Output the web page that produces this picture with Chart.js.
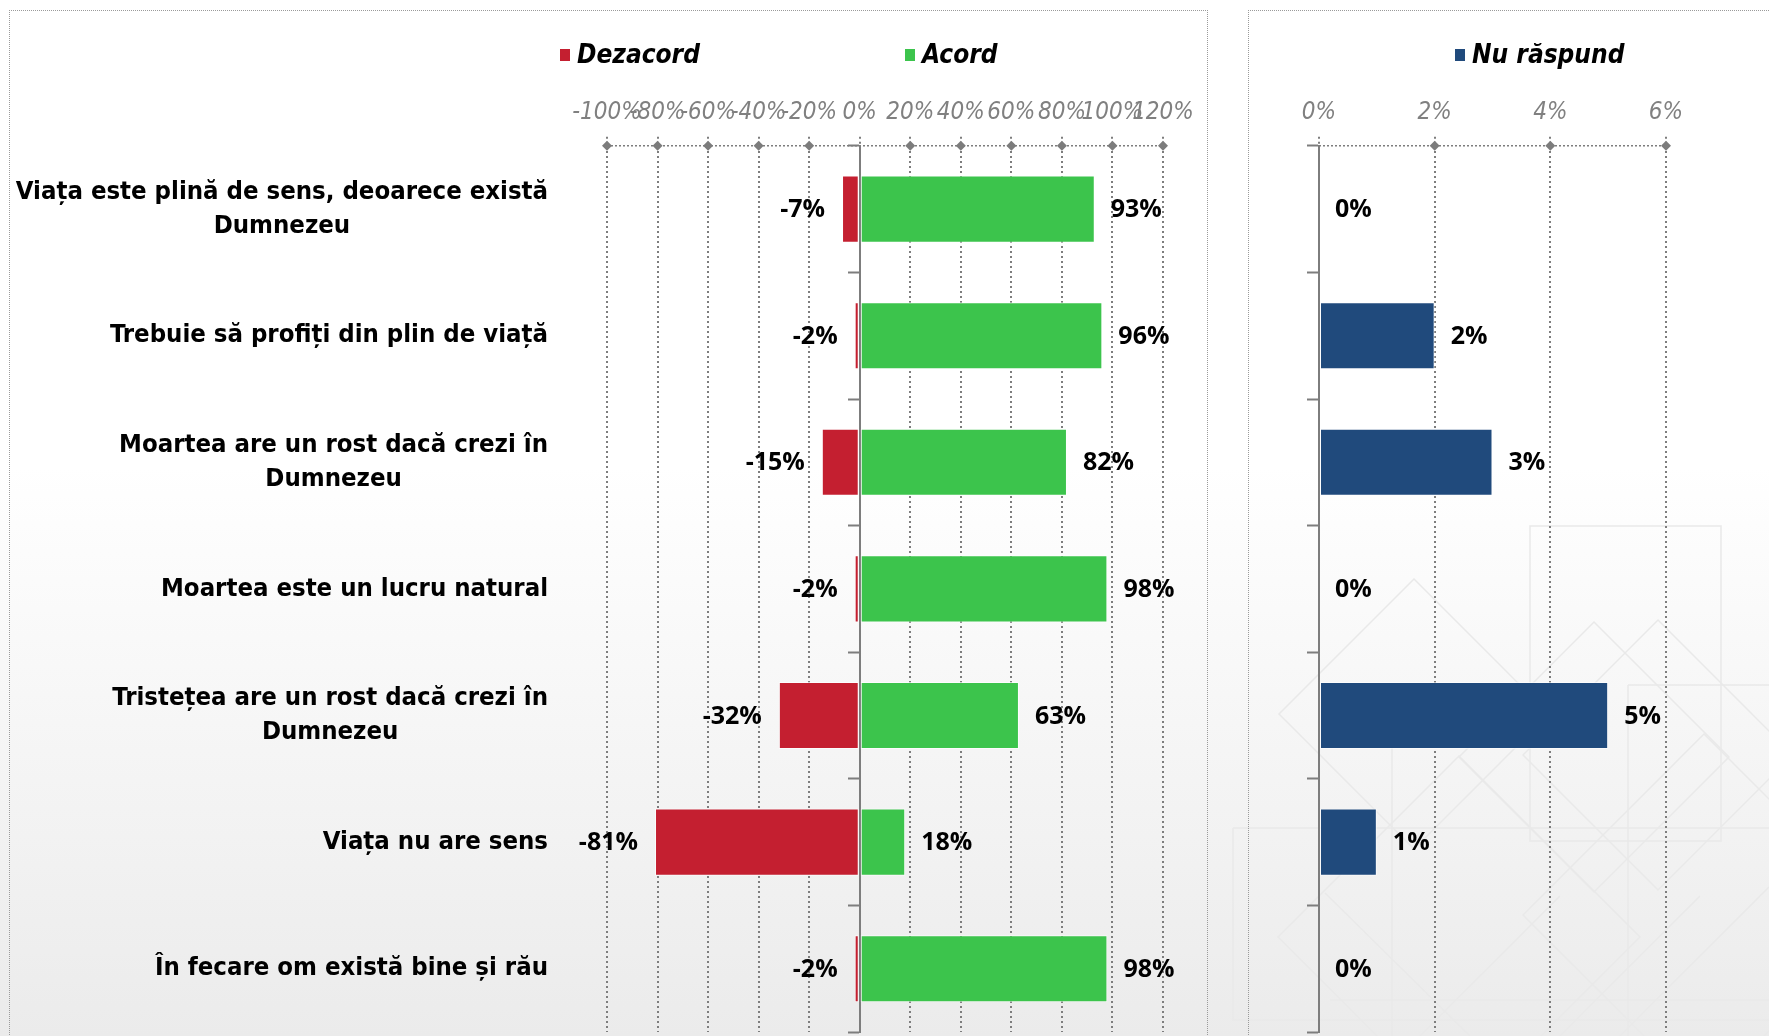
<!DOCTYPE html>
<html>
<head>
<meta charset="utf-8">
<script src="https://cdn.jsdelivr.net/npm/chart.js@4.4.0/dist/chart.umd.min.js"></script>
<style>
    html, body { margin: 0; padding: 0; }
    body {
        width: 1769px; height: 1036px; overflow: hidden; position: relative;
        background: linear-gradient(to bottom, #ffffff 0%, #ffffff 45%, #ebebeb 100%);
    }
    #bg { position: absolute; left: 0; top: 0; }
    .panel { position: absolute; border-left: 1px dotted #9a9a9a; border-top: 1px dotted #9a9a9a; }
    #p1 { left: 9px; top: 10px; width: 1197px; height: 1040px; border-right: 1px dotted #9a9a9a; }
    #p2 { left: 1248px; top: 10px; width: 540px; height: 1040px; }
    canvas { position: absolute; left: 0; top: 0; }
</style>
</head>
<body>
<!-- model slab de fundal (decor) -->
<svg id="bg" width="1769" height="1036" fill="none" stroke="#e9e9e9" stroke-width="1.5">
    <rect x="1530" y="526" width="191" height="315"/>
    <path d="M1414 579 L1549 714 L1414 849 L1279 714 Z"/>
    <path d="M1594 622 L1729 757 L1594 892 L1459 757 Z"/>
    <path d="M1658 620 L1793 755 L1658 890 L1523 755 Z"/>
    <path d="M1459 756 L1640 937 L1459 1118 L1278 937 Z"/>
    <path d="M1704 734 L1885 915 L1704 1096 L1523 915 Z"/>
    <path d="M1233 828 L1769 828 M1233 828 L1233 1020 L1769 1020 M1628 685 L1769 685"/>
    <path d="M1392 740 L1392 1036 M1628 685 L1628 1036 M1330 1000 L1769 1000"/>
    <path d="M1325 893 L1470 1036 M1420 1036 L1560 896 M1560 1036 L1700 896 M1620 1036 L1769 887"/>
</svg>
<div class="panel" id="p1"><canvas id="chartAcord" width="1197" height="1025"></canvas></div>
<div class="panel" id="p2"><canvas id="chartNR" width="520" height="1025"></canvas></div>
<script>
// date
const categories = [
    ['Viața este plină de sens, deoarece există', 'Dumnezeu'],
    'Trebuie să profiți din plin de viață',
    ['Moartea are un rost dacă crezi în', 'Dumnezeu'],
    'Moartea este un lucru natural',
    ['Tristețea are un rost dacă crezi în', 'Dumnezeu'],
    'Viața nu are sens',
    'În fecare om există bine și rău'
];
const dezacord  = [-7, -2, -15, -2, -32, -81, -2];
const acord     = [93, 96, 82, 98, 63, 18, 98];
const nuRaspund = [0, 2, 3, 0, 5, 1, 0];
const leftTicks  = [-100, -80, -60, -40, -20, 0, 20, 40, 60, 80, 100, 120];
const rightTicks = [0, 2, 4, 6];

const RED = '#c41f30', GREEN = '#3cc44c', NAVY = '#204a7c';
const GRID = '#7d7d7d';
const tickFont = { family: "'Liberation Sans Narrow', 'DejaVu Sans Condensed', sans-serif", style: 'italic', size: 24 };

// etichete valori (%), langa fiecare bara
const valueLabels = {
    id: 'valueLabels',
    afterDatasetsDraw(chart) {
        const ctx = chart.ctx;
        ctx.save();
        ctx.font = "bold 25px 'Open Sans', sans-serif";
        ctx.fillStyle = '#000';
        ctx.textBaseline = 'middle';
        chart.data.datasets.forEach((ds, i) => {
            chart.getDatasetMeta(i).data.forEach((bar, j) => {
                const v = ds.data[j];
                if (v < 0) {
                    ctx.textAlign = 'right';
                    ctx.fillText(v + '%', Math.min(bar.x, bar.base) - 17, bar.y + 1);
                } else {
                    ctx.textAlign = 'left';
                    ctx.fillText(v + '%', Math.max(bar.x, bar.base) + 16, bar.y + 1);
                }
            });
        });
        ctx.restore();
    }
};

// axa de sus punctata + romburi
const axisDiamonds = {
    id: 'axisDiamonds',
    afterDraw(chart) {
        const ctx = chart.ctx, xs = chart.scales.x, top = chart.chartArea.top;
        ctx.save();
        ctx.strokeStyle = GRID;
        ctx.lineWidth = 1.5;
        ctx.setLineDash([2, 2]);
        ctx.beginPath();
        ctx.moveTo(chart.chartArea.left, top);
        ctx.lineTo(chart.chartArea.right, top);
        ctx.stroke();
        ctx.fillStyle = '#7c7c7c';
        xs.ticks.forEach(t => {
            if (t.value === 0) return;
            const px = xs.getPixelForValue(t.value);
            ctx.beginPath();
            ctx.moveTo(px, top - 5);
            ctx.lineTo(px + 5, top);
            ctx.lineTo(px, top + 5);
            ctx.lineTo(px - 5, top);
            ctx.closePath();
            ctx.fill();
        });
        ctx.restore();
    }
};

// legenda
const manualLegend = {
    id: 'manualLegend',
    afterDraw(chart, args, opts) {
        const ctx = chart.ctx;
        ctx.save();
        ctx.font = "italic bold 26px 'Liberation Sans Narrow', 'DejaVu Sans Condensed', sans-serif";
        ctx.textBaseline = 'middle';
        ctx.textAlign = 'left';
        opts.items.forEach(it => {
            const ds = chart.data.datasets[it.index];
            ctx.fillStyle = ds.backgroundColor;
            ctx.fillRect(it.x, opts.y - 6, 10, 12);
            ctx.fillStyle = '#000';
            ctx.fillText(ds.label, it.x + 17, opts.y + 1);
        });
        ctx.restore();
    }
};

// etichete categorii (randul 2 centrat sub primul)
const categoryLabels = {
    id: 'categoryLabels',
    afterDraw(chart, args, opts) {
        const ctx = chart.ctx, ys = chart.scales.y;
        ctx.save();
        ctx.font = "bold 25.5px 'DejaVu Sans Condensed', 'DejaVu Sans', sans-serif";
        ctx.fillStyle = '#000';
        ctx.textBaseline = 'middle';
        ctx.textAlign = 'center';
        chart.data.labels.forEach((lab, i) => {
            const lines = Array.isArray(lab) ? lab : [lab];
            const cy = ys.getPixelForValue(i);
            const w = Math.max(...lines.map(l => ctx.measureText(l).width));
            lines.forEach((l, k) => {
                ctx.fillText(l, opts.right - w / 2, cy + (k - (lines.length - 1) / 2) * 34);
            });
        });
        ctx.restore();
    }
};

function xAxis(ticks) {
    return {
        type: 'linear',
        position: 'top',
        stacked: true,
        min: ticks[0],
        max: ticks[ticks.length - 1],
        ticks: {
            stepSize: ticks[1] - ticks[0],
            color: '#808080',
            font: tickFont,
            padding: 10,
            maxRotation: 0,
            autoSkip: false,
            callback: v => v + '%'
        },
        grid: { color: GRID, lineWidth: 2, tickLength: 9, tickColor: GRID, tickWidth: 2, tickBorderDash: [2, 3] },
        border: { display: false, color: GRID, width: 1.5, dash: [2, 3] }
    };
}

const yAxis = {
    type: 'category',
    position: { x: 0 },
    stacked: true,
    offset: true,
    ticks: { display: false },
    grid: { drawOnChartArea: false, drawTicks: true, tickLength: 11, tickColor: GRID, tickWidth: 2, offset: true },
    border: { display: true, color: GRID, width: 2 }
};

// Grafic stanga: Dezacord / Acord
new Chart(document.getElementById('chartAcord'), {
    type: 'bar',
    data: {
        labels: categories,
        datasets: [
            { label: 'Dezacord', data: dezacord, backgroundColor: RED, borderColor: 'rgba(255,255,255,0.7)', borderWidth: 1, borderSkipped: false, categoryPercentage: 1, barPercentage: 0.53 },
            { label: 'Acord', data: acord, backgroundColor: GREEN, borderColor: 'rgba(255,255,255,0.7)', borderWidth: 1, borderSkipped: false, categoryPercentage: 1, barPercentage: 0.53 }
        ]
    },
    options: {
        indexAxis: 'y',
        responsive: false,
        animation: false,
        layout: { padding: { left: 597, right: 44, top: 77, bottom: 4 } },
        plugins: {
            legend: { display: false },
            tooltip: { enabled: false },
            manualLegend: { y: 44, items: [{ index: 0, x: 550 }, { index: 1, x: 895 }] },
            categoryLabels: { right: 538 }
        },
        scales: { x: xAxis(leftTicks), y: yAxis }
    },
    plugins: [valueLabels, axisDiamonds, manualLegend, categoryLabels]
});

// Grafic dreapta: Nu raspund
new Chart(document.getElementById('chartNR'), {
    type: 'bar',
    data: {
        labels: categories,
        datasets: [
            { label: 'Nu răspund', data: nuRaspund, backgroundColor: NAVY, borderColor: 'rgba(255,255,255,0.6)', borderWidth: 1, borderSkipped: false, categoryPercentage: 1, barPercentage: 0.53 }
        ]
    },
    options: {
        indexAxis: 'y',
        responsive: false,
        animation: false,
        layout: { padding: { left: 70, right: 103, top: 77, bottom: 4 } },
        plugins: {
            legend: { display: false },
            tooltip: { enabled: false },
            manualLegend: { y: 44, items: [{ index: 0, x: 206 }] }
        },
        scales: { x: xAxis(rightTicks), y: yAxis }
    },
    plugins: [valueLabels, axisDiamonds, manualLegend]
});
</script>
</body>
</html>
